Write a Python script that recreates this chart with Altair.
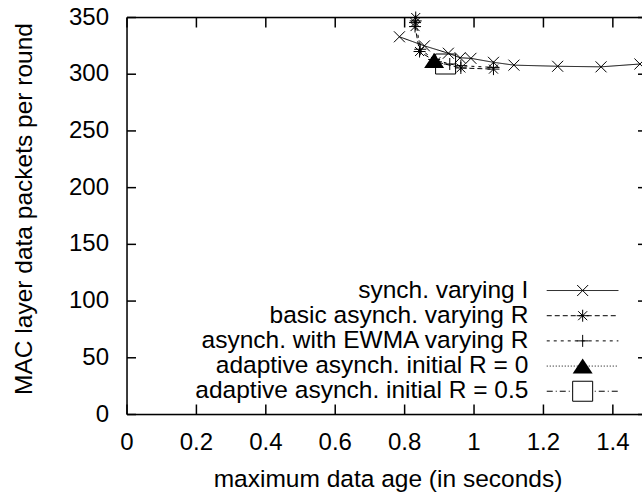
import altair as alt
import pandas as pd

# ---------------- data ----------------
SERIES = [
    "synch. varying I",
    "basic asynch. varying R",
    "asynch. with EWMA varying R",
    "adaptive asynch. initial R = 0",
    "adaptive asynch. initial R = 0.5",
]

synch_x = [0.785, 0.857, 0.926, 0.960, 0.991, 1.056, 1.115, 1.241, 1.366, 1.478]
synch_y = [333.0, 325.0, 318.5, 314.5, 314.0, 310.5, 308.0, 307.0, 306.5, 309.0]

basic_x = [0.832, 0.830, 0.830, 0.843, 0.890, 0.962, 1.056]
basic_y = [350.0, 345.5, 342.0, 320.0, 311.0, 305.5, 304.5]

ewma_x = [0.832, 0.845, 0.885, 0.930, 0.962, 1.056]
ewma_y = [347.0, 322.0, 313.0, 309.0, 307.5, 306.0]

adapt0_x = [0.885]
adapt0_y = [312.0]

adapt05_x = [0.918]
adapt05_y = [309.0]

x_ticks = [0, 0.2, 0.4, 0.6, 0.8, 1.0, 1.2, 1.4]
x_tick_labels = ["0", "0.2", "0.4", "0.6", "0.8", "1", "1.2", "1.4"]
y_ticks = [0, 50, 100, 150, 200, 250, 300, 350]
y_tick_labels = ["0", "50", "100", "150", "200", "250", "300", "350"]

X_TITLE = "maximum data age (in seconds)"
Y_TITLE = "MAC layer data packets per round"

# ---------------- styling ----------------
FONT = "Liberation Sans"
W, H = 515, 397
XMAX = 1.484
xs = alt.Scale(domain=[0, XMAX], nice=False, zero=False)
ys = alt.Scale(domain=[0, 350], nice=False)

X_PATH = "M-1,-1L1,1M-1,1L1,-1"
AST_PATH = "M-1,0L1,0M0,-1L0,1M-0.75,-0.75L0.75,0.75M-0.75,0.75L0.75,-0.75"
PLUS_PATH = "M-1,0L1,0M0,-1L0,1"
TRI_PATH = "M0,-0.75L1,0.75L-1,0.75Z"
SQ_PATH = "M-1,-1L1,-1L1,1L-1,1Z"

styles = [
    dict(dash=[1, 0], shape=X_PATH, size=121, filled=False),
    dict(dash=[5, 3], shape=AST_PATH, size=144, filled=False),
    dict(dash=[3, 4], shape=PLUS_PATH, size=144, filled=False),
    dict(dash=[1, 2], shape=TRI_PATH, size=400, filled=True),
    dict(dash=[6, 3, 1, 3], shape=SQ_PATH, size=400, filled=False),
]
series_data = [
    (synch_x, synch_y),
    (basic_x, basic_y),
    (ewma_x, ewma_y),
    (adapt0_x, adapt0_y),
    (adapt05_x, adapt05_y),
]

# legend placement (in data units of the shared scales)
LEG_TEXT_X = 1.1565
LEG_LINE_X1 = 1.2095
LEG_LINE_X2 = 1.416
LEG_MARK_X = 1.313
LEG_ROW0 = 109.3
LEG_STEP = 22.2


def X(field="x"):
    return alt.X(f"{field}:Q", scale=xs, axis=None)


def Y(field="y"):
    return alt.Y(f"{field}:Q", scale=ys, axis=None)


one = pd.DataFrame({"a": [0]})
layers = []

# border (left, bottom, top)
layers.append(alt.Chart(one).mark_rule(color="black", strokeWidth=1.5).encode(
    x=alt.value(0), y=alt.value(0), y2=alt.value(H)))
layers.append(alt.Chart(one).mark_rule(color="black", strokeWidth=1.5).encode(
    x=alt.value(0), x2=alt.value(W), y=alt.value(H)))
layers.append(alt.Chart(one).mark_rule(color="black", strokeWidth=1.5).encode(
    x=alt.value(0), x2=alt.value(W), y=alt.value(0)))

# inward tick marks (mirrored, gnuplot style)
xt_df = pd.DataFrame({"x": x_ticks, "label": x_tick_labels})
yt_df = pd.DataFrame({"y": y_ticks, "label": y_tick_labels})
layers.append(alt.Chart(xt_df).mark_rule(color="black", strokeWidth=1.5).encode(
    x=X(), y=alt.value(H), y2=alt.value(H - 10)))
layers.append(alt.Chart(xt_df).mark_rule(color="black", strokeWidth=1.5).encode(
    x=X(), y=alt.value(0), y2=alt.value(10)))
layers.append(alt.Chart(yt_df).mark_rule(color="black", strokeWidth=1.5).encode(
    y=Y(), x=alt.value(0), x2=alt.value(9)))
layers.append(alt.Chart(yt_df).mark_rule(color="black", strokeWidth=1.5).encode(
    y=Y(), x=alt.value(511), x2=alt.value(W)))

# tick labels
layers.append(alt.Chart(xt_df).mark_text(
    align="center", baseline="alphabetic", font=FONT, fontSize=24, color="black"
).encode(x=X(), y=alt.value(H + 35), text="label:N"))
layers.append(alt.Chart(yt_df).mark_text(
    align="right", baseline="middle", font=FONT, fontSize=24, color="black"
).encode(y=Y(), x=alt.value(-18), text="label:N"))

# axis titles
layers.append(alt.Chart(pd.DataFrame({"t": [X_TITLE]})).mark_text(
    align="center", baseline="alphabetic", font=FONT, fontSize=24.5, color="black"
).encode(x=alt.value(261), y=alt.value(H + 72), text="t:N"))
layers.append(alt.Chart(pd.DataFrame({"t": [Y_TITLE]})).mark_text(
    align="center", baseline="alphabetic", font=FONT, fontSize=24.5, color="black", angle=270
).encode(x=alt.value(-95), y=alt.value(191.5), text="t:N"))

# data series
for name, (sx, sy), st in zip(SERIES, series_data, styles):
    df = pd.DataFrame({"x": sx, "y": sy, "series": name})
    df["order"] = range(len(df))
    if len(df) > 1:
        layers.append(alt.Chart(df).mark_line(
            color="black", strokeWidth=1, strokeDash=st["dash"], clip=True
        ).encode(x=X(), y=Y(), order="order:Q"))
    pt = dict(shape=st["shape"], size=st["size"], color="black", strokeWidth=1, opacity=1)
    if st["filled"]:
        pt.update(filled=True, fill="black")
    else:
        pt.update(filled=False)
    layers.append(alt.Chart(df).mark_point(**pt).encode(x=X(), y=Y()))

# legend (drawn inside the plot, gnuplot style)
leg_df = pd.DataFrame({
    "label": SERIES,
    "y": [LEG_ROW0 - LEG_STEP * i for i in range(len(SERIES))],
    "x": [LEG_TEXT_X] * len(SERIES),
})
layers.append(alt.Chart(leg_df).mark_text(
    align="right", baseline="middle", font=FONT, fontSize=24.5, color="black"
).encode(x=X(), y=Y(), text="label:N"))

for i, st in enumerate(styles):
    ly = LEG_ROW0 - LEG_STEP * i
    ldf = pd.DataFrame({"x": [LEG_LINE_X1], "x2": [LEG_LINE_X2], "y": [ly], "mx": [LEG_MARK_X]})
    layers.append(alt.Chart(ldf).mark_rule(
        color="black", strokeWidth=1, strokeDash=st["dash"]
    ).encode(x=X(), x2="x2:Q", y=Y()))
    pt = dict(shape=st["shape"], size=st["size"], color="black", strokeWidth=1, opacity=1)
    if st["filled"]:
        pt.update(filled=True, fill="black")
    else:
        pt.update(filled=False, fill="white", fillOpacity=1)
    layers.append(alt.Chart(ldf).mark_point(**pt).encode(x=X("mx"), y=Y()))

chart = alt.layer(*layers).properties(
    width=W, height=H,
    autosize=alt.AutoSizeParams(type="none"),
    padding={"left": 127, "top": 17.5, "right": 0, "bottom": 78.5},
    background="white",
).configure_view(strokeWidth=0).configure(font=FONT)

chart.save("out.html", embed_options={"renderer": "svg", "actions": False})
